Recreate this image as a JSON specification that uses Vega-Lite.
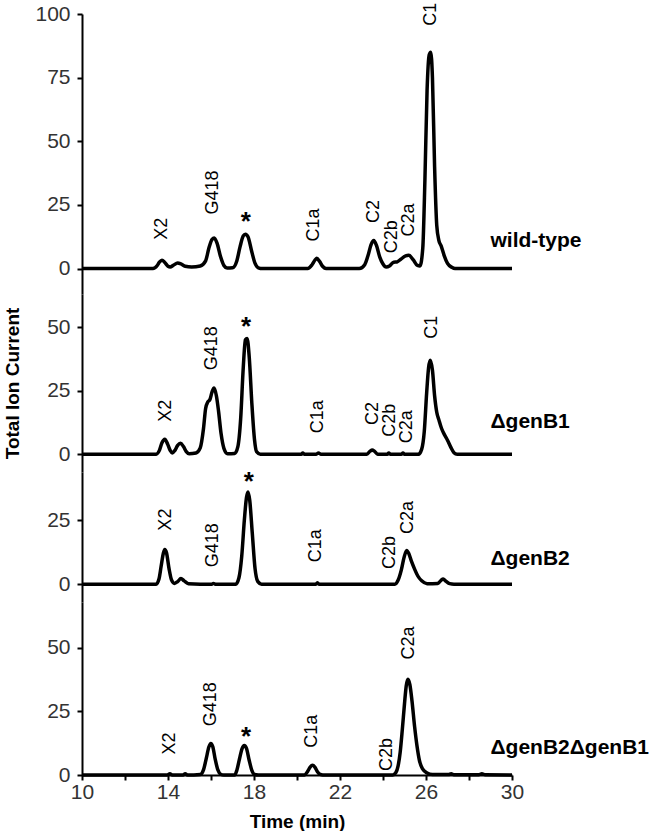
{
  "$schema": "https://vega.github.io/schema/vega-lite/v6.json",
  "padding": {"left": 3, "top": 2, "right": 0, "bottom": 0},
  "background": "white",
  "spacing": 0,
  "bounds": "flush",
  "config": {
    "view": {"stroke": null},
    "axis": {"domainColor": "black", "domainWidth": 2, "tickColor": "black", "tickWidth": 2, "tickSize": 5, "labelFont": "Liberation Sans", "labelFontSize": 21, "labelColor": "#333", "labelPadding": 7, "titleFont": "Liberation Sans", "titleFontWeight": "bold", "titleColor": "black", "grid": false, "labelFlush": false, "labelOverlap": false},
    "axisX": {"labelPadding": 1, "titlePadding": 10, "titleFontSize": 19},
    "axisY": {"titleFontSize": 19}
  },
  "datasets": {
    "traces": [
      {"p":1,"t":10,"v":0},{"p":1,"t":13.3,"v":0},{"p":1,"t":13.5,"v":1.2},{"p":1,"t":13.6,"v":2.5},{"p":1,"t":13.72,"v":3.3},{"p":1,"t":13.85,"v":2.4},{"p":1,"t":14.0,"v":0.9},{"p":1,"t":14.1,"v":0.6},{"p":1,"t":14.25,"v":1.3},{"p":1,"t":14.45,"v":2.2},{"p":1,"t":14.6,"v":1.8},{"p":1,"t":14.8,"v":0.9},{"p":1,"t":15.1,"v":0.6},{"p":1,"t":15.5,"v":1.0},{"p":1,"t":15.75,"v":3},{"p":1,"t":15.9,"v":8},{"p":1,"t":16.05,"v":11.5},{"p":1,"t":16.15,"v":12},{"p":1,"t":16.28,"v":10},{"p":1,"t":16.45,"v":4.5},{"p":1,"t":16.6,"v":1.2},{"p":1,"t":16.75,"v":0.2},{"p":1,"t":17.0,"v":0.3},{"p":1,"t":17.2,"v":3},{"p":1,"t":17.35,"v":8.5},{"p":1,"t":17.5,"v":12.8},{"p":1,"t":17.6,"v":13.5},{"p":1,"t":17.72,"v":12.5},{"p":1,"t":17.9,"v":6.5},{"p":1,"t":18.05,"v":2},{"p":1,"t":18.2,"v":0.3},{"p":1,"t":18.4,"v":0},{"p":1,"t":20.5,"v":0},{"p":1,"t":20.7,"v":1.5},{"p":1,"t":20.85,"v":3.5},{"p":1,"t":20.92,"v":4},{"p":1,"t":21.05,"v":2.8},{"p":1,"t":21.2,"v":0.8},{"p":1,"t":21.35,"v":0},{"p":1,"t":22.9,"v":0},{"p":1,"t":23.15,"v":1.5},{"p":1,"t":23.3,"v":5},{"p":1,"t":23.45,"v":9.5},{"p":1,"t":23.57,"v":11},{"p":1,"t":23.7,"v":9},{"p":1,"t":23.85,"v":4.5},{"p":1,"t":24.0,"v":1.8},{"p":1,"t":24.15,"v":0.6},{"p":1,"t":24.3,"v":1},{"p":1,"t":24.5,"v":2.5},{"p":1,"t":24.65,"v":2.6},{"p":1,"t":24.85,"v":3.8},{"p":1,"t":25.05,"v":5},{"p":1,"t":25.2,"v":5.2},{"p":1,"t":25.4,"v":3.5},{"p":1,"t":25.6,"v":1.2},{"p":1,"t":25.72,"v":1},{"p":1,"t":25.85,"v":8},{"p":1,"t":25.95,"v":35},{"p":1,"t":26.05,"v":70},{"p":1,"t":26.15,"v":84},{"p":1,"t":26.22,"v":85},{"p":1,"t":26.3,"v":75},{"p":1,"t":26.4,"v":40},{"p":1,"t":26.5,"v":17},{"p":1,"t":26.6,"v":11},{"p":1,"t":26.7,"v":9},{"p":1,"t":26.85,"v":5},{"p":1,"t":27.0,"v":2},{"p":1,"t":27.2,"v":0.5},{"p":1,"t":27.35,"v":0},{"p":1,"t":30,"v":0},
      {"p":2,"t":10,"v":0},{"p":2,"t":13.45,"v":0},{"p":2,"t":13.6,"v":1.5},{"p":2,"t":13.72,"v":4.5},{"p":2,"t":13.85,"v":5.9},{"p":2,"t":13.98,"v":4},{"p":2,"t":14.1,"v":1.5},{"p":2,"t":14.2,"v":0.5},{"p":2,"t":14.32,"v":1.5},{"p":2,"t":14.45,"v":3.5},{"p":2,"t":14.58,"v":4.3},{"p":2,"t":14.72,"v":3},{"p":2,"t":14.85,"v":1},{"p":2,"t":14.98,"v":0.2},{"p":2,"t":15.3,"v":0.5},{"p":2,"t":15.5,"v":2.5},{"p":2,"t":15.65,"v":10},{"p":2,"t":15.75,"v":18},{"p":2,"t":15.85,"v":20.5},{"p":2,"t":15.95,"v":21.5},{"p":2,"t":16.05,"v":24.5},{"p":2,"t":16.14,"v":26},{"p":2,"t":16.25,"v":23},{"p":2,"t":16.35,"v":17},{"p":2,"t":16.47,"v":8},{"p":2,"t":16.6,"v":2.3},{"p":2,"t":16.77,"v":0.2},{"p":2,"t":17.1,"v":0.3},{"p":2,"t":17.25,"v":3},{"p":2,"t":17.38,"v":14},{"p":2,"t":17.5,"v":34},{"p":2,"t":17.6,"v":45},{"p":2,"t":17.68,"v":45.5},{"p":2,"t":17.78,"v":38},{"p":2,"t":17.9,"v":20},{"p":2,"t":18.02,"v":6},{"p":2,"t":18.12,"v":1},{"p":2,"t":18.3,"v":0},{"p":2,"t":20.2,"v":0},{"p":2,"t":20.27,"v":0.5},{"p":2,"t":20.35,"v":0},{"p":2,"t":20.9,"v":0},{"p":2,"t":21.0,"v":0.5},{"p":2,"t":21.1,"v":0},{"p":2,"t":23.25,"v":0},{"p":2,"t":23.4,"v":1.2},{"p":2,"t":23.5,"v":1.7},{"p":2,"t":23.6,"v":1.2},{"p":2,"t":23.75,"v":0},{"p":2,"t":24.2,"v":0},{"p":2,"t":24.27,"v":0.5},{"p":2,"t":24.35,"v":0},{"p":2,"t":24.85,"v":0},{"p":2,"t":24.93,"v":0.5},{"p":2,"t":25.0,"v":0},{"p":2,"t":25.65,"v":0},{"p":2,"t":25.8,"v":2},{"p":2,"t":25.92,"v":9},{"p":2,"t":26.03,"v":24},{"p":2,"t":26.12,"v":34},{"p":2,"t":26.2,"v":36.9},{"p":2,"t":26.3,"v":33},{"p":2,"t":26.4,"v":23},{"p":2,"t":26.5,"v":16.5},{"p":2,"t":26.6,"v":13.5},{"p":2,"t":26.72,"v":10.2},{"p":2,"t":26.85,"v":7.8},{"p":2,"t":27.0,"v":5.5},{"p":2,"t":27.15,"v":2.8},{"p":2,"t":27.3,"v":0.6},{"p":2,"t":27.45,"v":0},{"p":2,"t":30,"v":0},
      {"p":3,"t":10,"v":0},{"p":3,"t":13.45,"v":0},{"p":3,"t":13.58,"v":2},{"p":3,"t":13.68,"v":7},{"p":3,"t":13.78,"v":12},{"p":3,"t":13.85,"v":13.6},{"p":3,"t":13.93,"v":12.3},{"p":3,"t":14.05,"v":6},{"p":3,"t":14.17,"v":1.5},{"p":3,"t":14.3,"v":0.3},{"p":3,"t":14.45,"v":1},{"p":3,"t":14.6,"v":2.2},{"p":3,"t":14.75,"v":1.3},{"p":3,"t":14.95,"v":0.2},{"p":3,"t":16.05,"v":0},{"p":3,"t":16.11,"v":0.3},{"p":3,"t":16.2,"v":0},{"p":3,"t":17.15,"v":0},{"p":3,"t":17.3,"v":2.5},{"p":3,"t":17.43,"v":11},{"p":3,"t":17.55,"v":25},{"p":3,"t":17.65,"v":34},{"p":3,"t":17.72,"v":36.2},{"p":3,"t":17.8,"v":33},{"p":3,"t":17.92,"v":20},{"p":3,"t":18.05,"v":6},{"p":3,"t":18.18,"v":1},{"p":3,"t":18.35,"v":0},{"p":3,"t":20.88,"v":0},{"p":3,"t":20.95,"v":0.6},{"p":3,"t":21.02,"v":0},{"p":3,"t":24.55,"v":0},{"p":3,"t":24.7,"v":1.5},{"p":3,"t":24.85,"v":5.5},{"p":3,"t":24.98,"v":10.5},{"p":3,"t":25.1,"v":13.2},{"p":3,"t":25.2,"v":12},{"p":3,"t":25.33,"v":8.8},{"p":3,"t":25.47,"v":5.9},{"p":3,"t":25.62,"v":3.2},{"p":3,"t":25.8,"v":1.3},{"p":3,"t":26.05,"v":0.2},{"p":3,"t":26.55,"v":0.3},{"p":3,"t":26.7,"v":1.5},{"p":3,"t":26.8,"v":2},{"p":3,"t":26.92,"v":1.2},{"p":3,"t":27.1,"v":0.2},{"p":3,"t":27.3,"v":0},{"p":3,"t":30,"v":0},
      {"p":4,"t":10,"v":0},{"p":4,"t":13.95,"v":0},{"p":4,"t":14.09,"v":0.5},{"p":4,"t":14.2,"v":0},{"p":4,"t":14.7,"v":0},{"p":4,"t":14.8,"v":0.5},{"p":4,"t":14.9,"v":0},{"p":4,"t":15.5,"v":0.2},{"p":4,"t":15.65,"v":2},{"p":4,"t":15.78,"v":6.5},{"p":4,"t":15.9,"v":11},{"p":4,"t":15.99,"v":12.4},{"p":4,"t":16.08,"v":11.2},{"p":4,"t":16.2,"v":6},{"p":4,"t":16.32,"v":2},{"p":4,"t":16.45,"v":0.3},{"p":4,"t":16.6,"v":0},{"p":4,"t":17.1,"v":0},{"p":4,"t":17.2,"v":1.8},{"p":4,"t":17.33,"v":6.5},{"p":4,"t":17.45,"v":10.5},{"p":4,"t":17.55,"v":11.6},{"p":4,"t":17.65,"v":10.5},{"p":4,"t":17.77,"v":6},{"p":4,"t":17.9,"v":1.8},{"p":4,"t":18.02,"v":0.2},{"p":4,"t":18.2,"v":0},{"p":4,"t":20.35,"v":0},{"p":4,"t":20.5,"v":1.5},{"p":4,"t":20.62,"v":3.2},{"p":4,"t":20.72,"v":3.8},{"p":4,"t":20.83,"v":3.1},{"p":4,"t":20.95,"v":1.3},{"p":4,"t":21.08,"v":0.2},{"p":4,"t":21.2,"v":0},{"p":4,"t":24.45,"v":0},{"p":4,"t":24.6,"v":1},{"p":4,"t":24.7,"v":3.5},{"p":4,"t":24.8,"v":9},{"p":4,"t":24.9,"v":18},{"p":4,"t":25.0,"v":28},{"p":4,"t":25.08,"v":35},{"p":4,"t":25.16,"v":37.6},{"p":4,"t":25.25,"v":35.5},{"p":4,"t":25.35,"v":29},{"p":4,"t":25.47,"v":19},{"p":4,"t":25.58,"v":11.5},{"p":4,"t":25.7,"v":5.5},{"p":4,"t":25.85,"v":2.3},{"p":4,"t":26.05,"v":0.8},{"p":4,"t":26.3,"v":0.2},{"p":4,"t":27.05,"v":0.2},{"p":4,"t":27.17,"v":0.5},{"p":4,"t":27.3,"v":0.1},{"p":4,"t":28.45,"v":0.1},{"p":4,"t":28.6,"v":0.5},{"p":4,"t":28.75,"v":0.1},{"p":4,"t":30,"v":0}
    ],
    "labels": [
      {"p":1,"t":13.72,"v":11.3,"label":"X2"},{"p":1,"t":16.09,"v":21.2,"label":"G418"},{"p":1,"t":20.8,"v":10.6,"label":"C1a"},{"p":1,"t":23.58,"v":17.9,"label":"C2"},{"p":1,"t":24.44,"v":6,"label":"C2b"},{"p":1,"t":25.23,"v":12.6,"label":"C2a"},{"p":1,"t":26.24,"v":95.4,"label":"C1"},
      {"p":2,"t":13.9,"v":12.8,"label":"X2"},{"p":2,"t":16.06,"v":33,"label":"G418"},{"p":2,"t":20.99,"v":8.2,"label":"C1a"},{"p":2,"t":23.55,"v":11.5,"label":"C2"},{"p":2,"t":24.34,"v":6.9,"label":"C2b"},{"p":2,"t":25.1,"v":4.3,"label":"C2a"},{"p":2,"t":26.3,"v":45.4,"label":"C1"},
      {"p":3,"t":13.9,"v":21,"label":"X2"},{"p":3,"t":16.11,"v":6.6,"label":"G418"},{"p":3,"t":20.9,"v":8.6,"label":"C1a"},{"p":3,"t":24.34,"v":5.9,"label":"C2b"},{"p":3,"t":25.16,"v":19.7,"label":"C2a"},
      {"p":4,"t":14.09,"v":8.1,"label":"X2"},{"p":4,"t":15.99,"v":19.2,"label":"G418"},{"p":4,"t":20.72,"v":10.7,"label":"C1a"},{"p":4,"t":24.2,"v":1.6,"label":"C2b"},{"p":4,"t":25.23,"v":45.4,"label":"C2a"}
    ],
    "stars": [
      {"p":1,"t":17.62,"v":21.2,"s":"*"},{"p":2,"t":17.63,"v":52.6,"s":"*"},{"p":3,"t":17.76,"v":42.8,"s":"*"},{"p":4,"t":17.63,"v":17.7,"s":"*"}
    ],
    "names": [
      {"p":1,"t":29.0,"v":11,"name":"wild-type"},{"p":2,"t":29.0,"v":12.8,"name":"ΔgenB1"},{"p":3,"t":29.0,"v":9.9,"name":"ΔgenB2"},{"p":4,"t":29.0,"v":10.7,"name":"ΔgenB2ΔgenB1"}
    ]
  },
  "vconcat": [
    {
      "width": 430, "height": 280,
      "layer": [
        {"data": {"name": "traces"}, "transform": [{"filter": "datum.p == 1"}],
         "mark": {"type": "line", "color": "black", "strokeWidth": 3.5, "interpolate": "monotone"},
         "encoding": {"x": {"field": "t", "type": "quantitative", "scale": {"domain": [10, 30], "nice": false}, "axis": null},
                      "y": {"field": "v", "type": "quantitative", "scale": {"domain": [-10, 100], "nice": false, "zero": false}, "axis": {"values": [0, 25, 50, 75, 100], "title": null}}}},
        {"data": {"name": "labels"}, "transform": [{"filter": "datum.p == 1"}],
         "mark": {"type": "text", "angle": 270, "align": "left", "baseline": "middle", "fontSize": 18, "font": "Liberation Sans", "color": "black"},
         "encoding": {"x": {"field": "t", "type": "quantitative"}, "y": {"field": "v", "type": "quantitative"}, "text": {"field": "label"}}},
        {"data": {"name": "stars"}, "transform": [{"filter": "datum.p == 1"}],
         "mark": {"type": "text", "align": "center", "baseline": "middle", "dy": 7, "fontSize": 26, "fontWeight": "bold", "font": "Liberation Sans", "color": "black"},
         "encoding": {"x": {"field": "t", "type": "quantitative"}, "y": {"field": "v", "type": "quantitative"}, "text": {"field": "s"}}},
        {"data": {"name": "names"}, "transform": [{"filter": "datum.p == 1"}],
         "mark": {"type": "text", "align": "left", "baseline": "middle", "fontSize": 21, "fontWeight": "bold", "font": "Liberation Sans", "color": "black"},
         "encoding": {"x": {"field": "t", "type": "quantitative"}, "y": {"field": "v", "type": "quantitative"}, "text": {"field": "name"}}}
      ]
    },
    {
      "width": 430, "height": 178,
      "layer": [
        {"data": {"name": "traces"}, "transform": [{"filter": "datum.p == 2"}],
         "mark": {"type": "line", "color": "black", "strokeWidth": 3.5, "interpolate": "monotone"},
         "encoding": {"x": {"field": "t", "type": "quantitative", "scale": {"domain": [10, 30], "nice": false}, "axis": null},
                      "y": {"field": "v", "type": "quantitative", "scale": {"domain": [-7, 63], "nice": false, "zero": false}, "axis": {"values": [0, 25, 50], "title": "Total Ion Current", "titlePadding": 24}}}},
        {"data": {"name": "labels"}, "transform": [{"filter": "datum.p == 2"}],
         "mark": {"type": "text", "angle": 270, "align": "left", "baseline": "middle", "fontSize": 18, "font": "Liberation Sans", "color": "black"},
         "encoding": {"x": {"field": "t", "type": "quantitative"}, "y": {"field": "v", "type": "quantitative"}, "text": {"field": "label"}}},
        {"data": {"name": "stars"}, "transform": [{"filter": "datum.p == 2"}],
         "mark": {"type": "text", "align": "center", "baseline": "middle", "dy": 7, "fontSize": 26, "fontWeight": "bold", "font": "Liberation Sans", "color": "black"},
         "encoding": {"x": {"field": "t", "type": "quantitative"}, "y": {"field": "v", "type": "quantitative"}, "text": {"field": "s"}}},
        {"data": {"name": "names"}, "transform": [{"filter": "datum.p == 2"}],
         "mark": {"type": "text", "align": "left", "baseline": "middle", "fontSize": 21, "fontWeight": "bold", "font": "Liberation Sans", "color": "black"},
         "encoding": {"x": {"field": "t", "type": "quantitative"}, "y": {"field": "v", "type": "quantitative"}, "text": {"field": "name"}}}
      ]
    },
    {
      "width": 430, "height": 130,
      "layer": [
        {"data": {"name": "traces"}, "transform": [{"filter": "datum.p == 3"}],
         "mark": {"type": "line", "color": "black", "strokeWidth": 3.5, "interpolate": "monotone"},
         "encoding": {"x": {"field": "t", "type": "quantitative", "scale": {"domain": [10, 30], "nice": false}, "axis": null},
                      "y": {"field": "v", "type": "quantitative", "scale": {"domain": [-7, 44], "nice": false, "zero": false}, "axis": {"values": [0, 25], "title": null}}}},
        {"data": {"name": "labels"}, "transform": [{"filter": "datum.p == 3"}],
         "mark": {"type": "text", "angle": 270, "align": "left", "baseline": "middle", "fontSize": 18, "font": "Liberation Sans", "color": "black"},
         "encoding": {"x": {"field": "t", "type": "quantitative"}, "y": {"field": "v", "type": "quantitative"}, "text": {"field": "label"}}},
        {"data": {"name": "stars"}, "transform": [{"filter": "datum.p == 3"}],
         "mark": {"type": "text", "align": "center", "baseline": "middle", "dy": 7, "fontSize": 26, "fontWeight": "bold", "font": "Liberation Sans", "color": "black"},
         "encoding": {"x": {"field": "t", "type": "quantitative"}, "y": {"field": "v", "type": "quantitative"}, "text": {"field": "s"}}},
        {"data": {"name": "names"}, "transform": [{"filter": "datum.p == 3"}],
         "mark": {"type": "text", "align": "left", "baseline": "middle", "fontSize": 21, "fontWeight": "bold", "font": "Liberation Sans", "color": "black"},
         "encoding": {"x": {"field": "t", "type": "quantitative"}, "y": {"field": "v", "type": "quantitative"}, "text": {"field": "name"}}}
      ]
    },
    {
      "width": 430, "height": 173,
      "layer": [
        {"data": {"name": "traces"}, "transform": [{"filter": "datum.p == 4"}],
         "mark": {"type": "line", "color": "black", "strokeWidth": 3.5, "interpolate": "monotone"},
         "encoding": {"x": {"field": "t", "type": "quantitative", "scale": {"domain": [10, 30], "nice": false}, "axis": {"values": [10, 12, 14, 16, 18, 20, 22, 24, 26, 28, 30], "labelExpr": "datum.value % 4 == 2 ? datum.label : ''", "title": "Time (min)"}},
                      "y": {"field": "v", "type": "quantitative", "scale": {"domain": [0, 68], "nice": false, "zero": false}, "axis": {"values": [0, 25, 50], "title": null}}}},
        {"data": {"name": "labels"}, "transform": [{"filter": "datum.p == 4"}],
         "mark": {"type": "text", "angle": 270, "align": "left", "baseline": "middle", "fontSize": 18, "font": "Liberation Sans", "color": "black"},
         "encoding": {"x": {"field": "t", "type": "quantitative"}, "y": {"field": "v", "type": "quantitative"}, "text": {"field": "label"}}},
        {"data": {"name": "stars"}, "transform": [{"filter": "datum.p == 4"}],
         "mark": {"type": "text", "align": "center", "baseline": "middle", "dy": 7, "fontSize": 26, "fontWeight": "bold", "font": "Liberation Sans", "color": "black"},
         "encoding": {"x": {"field": "t", "type": "quantitative"}, "y": {"field": "v", "type": "quantitative"}, "text": {"field": "s"}}},
        {"data": {"name": "names"}, "transform": [{"filter": "datum.p == 4"}],
         "mark": {"type": "text", "align": "left", "baseline": "middle", "fontSize": 21, "fontWeight": "bold", "font": "Liberation Sans", "color": "black"},
         "encoding": {"x": {"field": "t", "type": "quantitative"}, "y": {"field": "v", "type": "quantitative"}, "text": {"field": "name"}}}
      ]
    }
  ]
}
